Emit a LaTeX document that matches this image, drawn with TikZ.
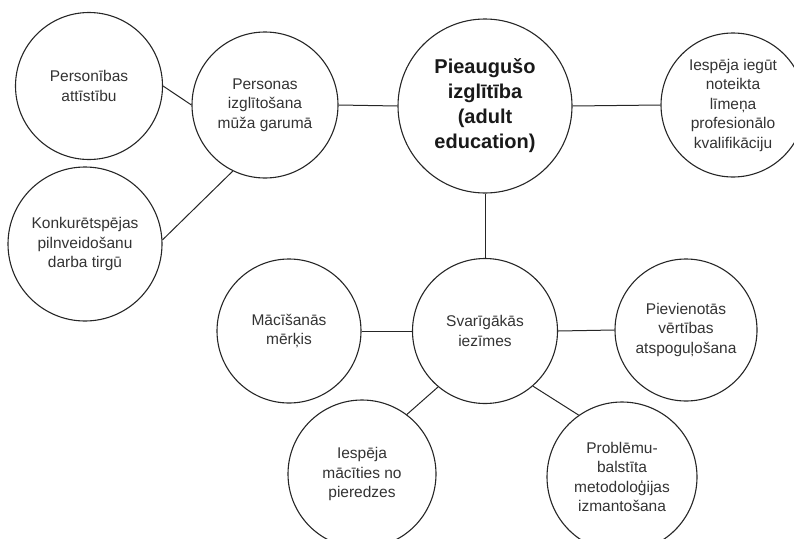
\documentclass[tikz,border=0pt]{standalone}
\usepackage{fontspec}
\setmainfont{Liberation Sans}
\begin{document}
\begin{tikzpicture}[x=1pt,y=-1pt,
  bubble/.style={draw=black!85, line width=1.1pt, circle, inner sep=0pt,
    minimum size=2*#1, align=center, text=black!80,
    font=\fontsize{15.5}{19.5}\selectfont},
  bubble/.default=72pt,
  mainbubble/.style={bubble=87pt, font=\fontsize{20}{25}\selectfont\bfseries, text=black!90},
  link/.style={draw=black!85, line width=1pt}]
  \useasboundingbox (0,0) rectangle (794,538);
  \begin{scope}
  \clip (0,0) rectangle (794,538);
  % top row
  \node[bubble=73.5pt] (pers) at (89,86) {Personības\\attīstību};
  \node[bubble=77pt] (konk) at (85,244) {Konkurētspējas\\pilnveidošanu\\darba tirgū};
  \node[bubble=73pt] (pizg) at (265,105) {Personas\\izglītošana\\mūža garumā};
  \node[mainbubble] (adult) at (485,106) {Pieaugušo\\izglītība\\(adult\\education)};
  \node[bubble=72pt] (iesp) at (733,105) {Iespēja iegūt\\noteikta\\līmeņa\\profesionālo\\kvalifikāciju};
  % middle row
  \node[bubble=72pt] (mac) at (289,331) {Mācīšanās\\mērķis};
  \node[bubble=72.5pt] (svar) at (485,331) {Svarīgākās\\iezīmes};
  \node[bubble=71pt] (piev) at (686,330) {Pievienotās\\vērtības\\atspoguļošana};
  % bottom row
  \node[bubble=74pt] (macp) at (362,474) {Iespēja\\mācīties no\\pieredzes};
  \node[bubble=75pt] (prob) at (622,477) {Problēmu-\\balstīta\\metodoloģijas\\izmantošana};
  % connectors
  \draw[link] (pers.east) -- (pizg.west);
  \draw[link] (konk.3) -- (pizg.244);
  \draw[link] (pizg.east) -- (adult.west);
  \draw[link] (adult.east) -- (iesp.west);
  \draw[link] (adult.south) -- (svar.north);
  \draw[link] (mac.east) -- (svar.west);
  \draw[link] (svar.east) -- (piev.west);
  \draw[link] (svar.230) -- (macp.53);
  \draw[link] (svar.311) -- (prob.125);
  \end{scope}
\end{tikzpicture}
\end{document}
